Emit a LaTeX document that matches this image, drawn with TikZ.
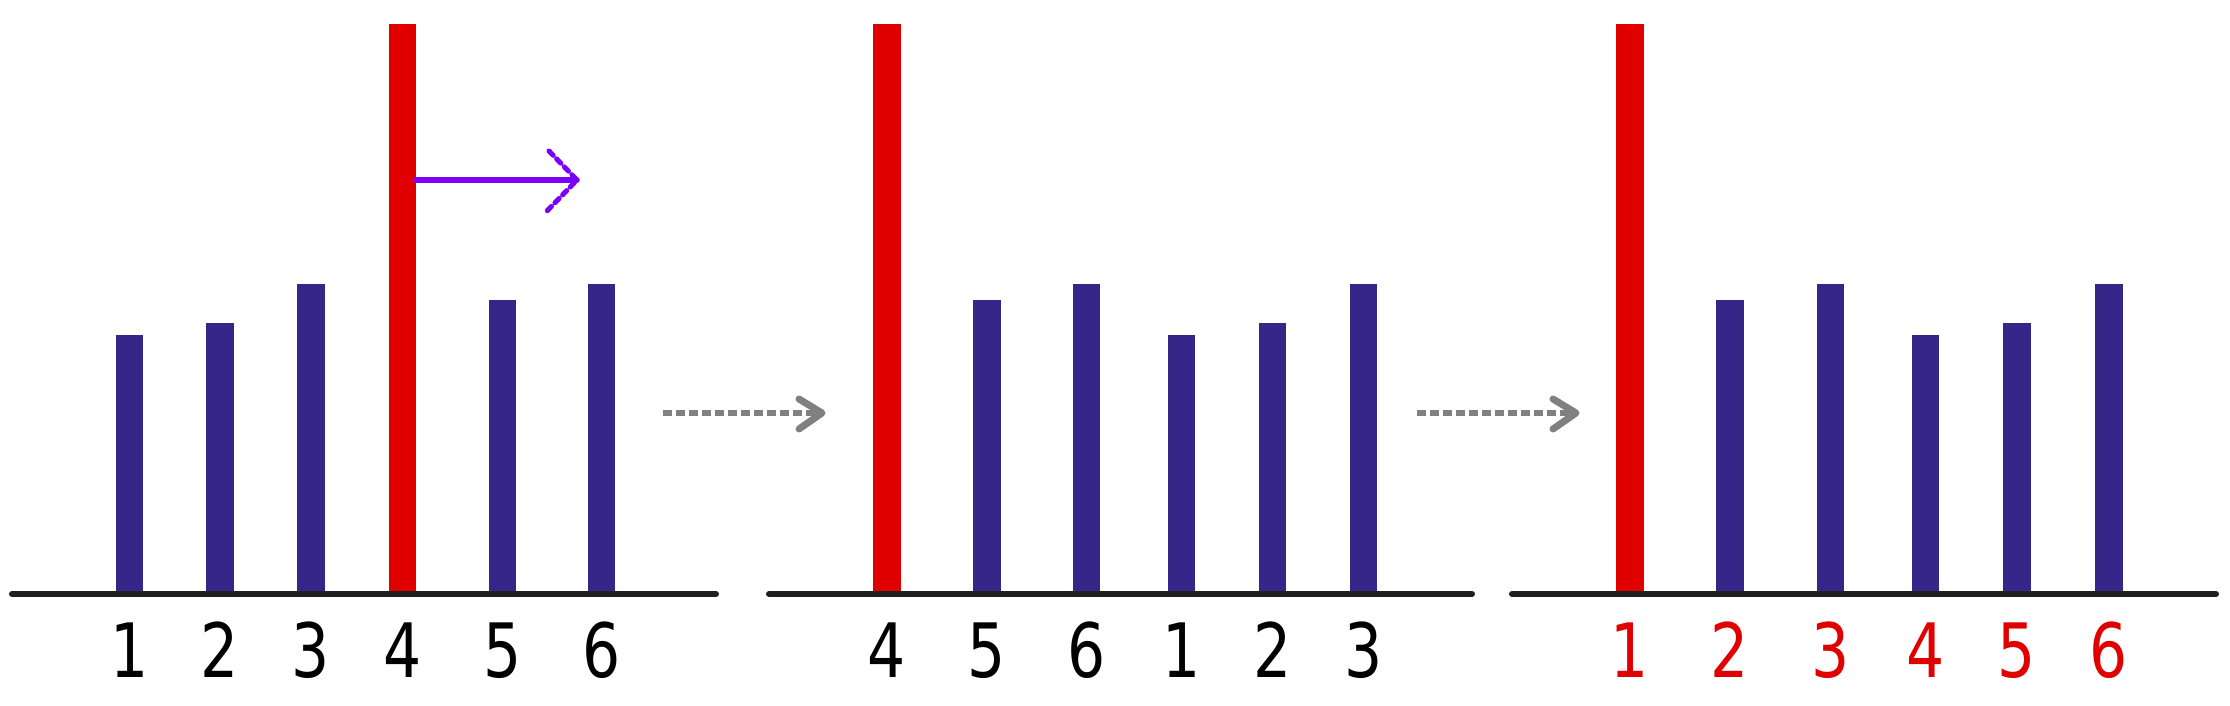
\documentclass[tikz,border=0pt]{standalone}
\usepackage{fontspec}
\newfontfamily\digitfont[FakeStretch=0.8]{DejaVu Sans}
\definecolor{barblue}{RGB}{55,38,137}
\definecolor{barred}{RGB}{224,0,0}
\definecolor{axiscol}{RGB}{32,32,32}
\definecolor{violetarrow}{RGB}{122,0,250}
\definecolor{grayarrow}{RGB}{128,128,128}
\begin{document}
\begin{tikzpicture}[x=1pt,y=-1pt,
  barnode/.style={fill=#1, draw=none, inner sep=0pt, outer sep=0pt, minimum width=27.5pt, anchor=south},
  lab/.style={text=#1, font=\digitfont\fontsize{75}{75}\selectfont, anchor=base, inner sep=0pt},
  axisline/.style={draw=axiscol, line width=6pt, line cap=round},
  flowline/.style={draw=grayarrow, line width=6pt, dash pattern=on 9pt off 4pt},
  flowhead/.style={draw=grayarrow, line width=7pt, line cap=round, line join=round},
  moveline/.style={draw=violetarrow, line width=5.5pt, line cap=round},
  movehead/.style={draw=violetarrow, line width=5pt, line cap=round, dash pattern=on 6pt off 5pt}]
\useasboundingbox (0,0) rectangle (2230,706);
% bars
\foreach \n/\x/\t/\c in {
  a1/129.5/335/barblue, a2/220/323/barblue, a3/311/284/barblue,
  a4/402.5/24/barred, a5/502.5/300/barblue, a6/601.5/284/barblue,
  b4/887/24/barred, b5/987/300/barblue, b6/1086.5/284/barblue,
  b1/1181.5/335/barblue, b2/1272.5/323/barblue, b3/1363.5/284/barblue,
  c1/1630/24/barred, c2/1730/300/barblue, c3/1830.5/284/barblue,
  c4/1925.5/335/barblue, c5/2017/323/barblue, c6/2109/284/barblue}{
  \pgfmathsetmacro\hh{594-\t}
  \node[barnode=\c, minimum height=\hh pt] (\n) at (\x,594) {};
}
% axes
\coordinate (ax1s) at (12,594);   \coordinate (ax1e) at (716,594);
\coordinate (ax2s) at (769,594);  \coordinate (ax2e) at (1472,594);
\coordinate (ax3s) at (1512,594); \coordinate (ax3e) at (2216,594);
\draw[axisline] (ax1s) -- (ax1e);
\draw[axisline] (ax2s) -- (ax2e);
\draw[axisline] (ax3s) -- (ax3e);
% labels
\foreach \n/\x/\s/\c in {
  la1/129.5/1/black, la2/220/2/black, la3/311/3/black,
  la4/402.5/4/black, la5/502.5/5/black, la6/601.5/6/black,
  lb4/887/4/black, lb5/987/5/black, lb6/1086.5/6/black,
  lb1/1181.5/1/black, lb2/1272.5/2/black, lb3/1363.5/3/black,
  lc1/1630/1/barred, lc2/1730/2/barred, lc3/1830.5/3/barred,
  lc4/1925.5/4/barred, lc5/2017/5/barred, lc6/2109/6/barred}{
  \node[lab=\c] (\n) at (\x,677) {\s};
}
% violet move arrow
\coordinate (mvy) at (0,180);
\coordinate (mvtip) at (577,180);
\coordinate (mvup) at (549,151);
\coordinate (mvdn) at (547,211);
\draw[moveline] (a4.east |- mvy) -- (mvtip);
\draw[movehead] (mvup) -- (mvtip) -- (mvdn);
% gray flow arrows
\coordinate (f1s) at (663,413); \coordinate (f1e) at (822,413);
\coordinate (f1u) at (799,399); \coordinate (f1d) at (799,429);
\coordinate (f2s) at (1417,413); \coordinate (f2e) at (1576,413);
\coordinate (f2u) at (1553,399); \coordinate (f2d) at (1553,429);
\draw[flowline] (f1s) -- (f1e);
\draw[flowhead] (f1u) -- (f1e) -- (f1d);
\draw[flowline] (f2s) -- (f2e);
\draw[flowhead] (f2u) -- (f2e) -- (f2d);
\end{tikzpicture}
\end{document}
